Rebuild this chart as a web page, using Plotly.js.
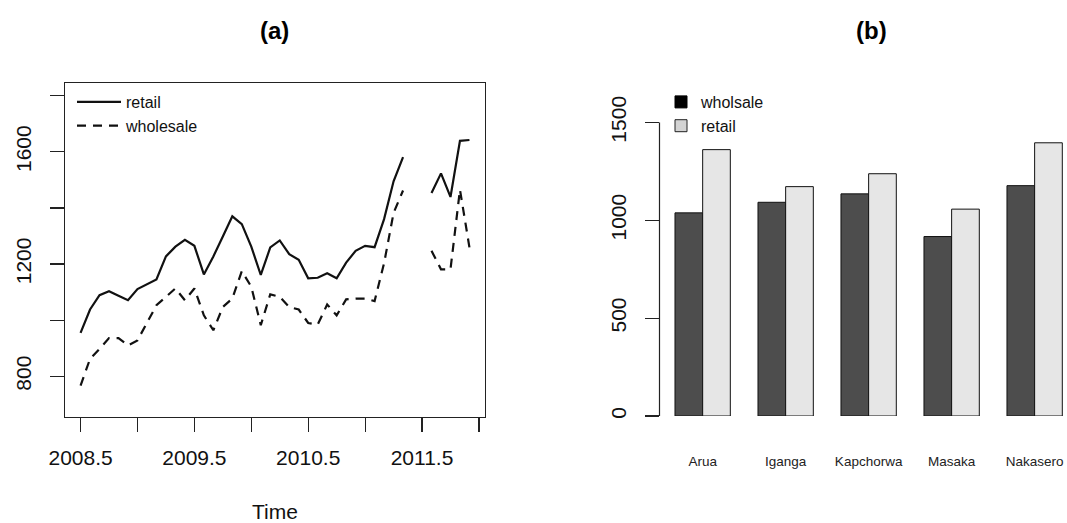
<!DOCTYPE html>
<html>
<head>
<meta charset="utf-8">
<script src="https://cdn.plot.ly/plotly-3.0.1.min.js"></script>
<style>
  html, body { margin: 0; padding: 0; background: #fff; }
  #chart { width: 1067px; height: 523px; }
</style>
</head>
<body>
<div id="chart"></div>
<script>
// ---- (a) monthly prices, July 2008 onwards (null = missing month) ----
const startYear = 2008.5;
const retail = [955, 1038, 1089, 1103, 1087, 1071, 1111, 1127, 1145, 1227, 1262, 1286,
                1265, 1163, 1227, 1298, 1370, 1342, 1262, 1161, 1259, 1284, 1235, 1215,
                1149, 1151, 1167, 1149, 1205, 1247, 1265, 1260, 1360, 1495, 1581, null,
                null, 1453, 1523, 1439, 1639, 1642];
const wholesale = [767, 862, 898, 936, 936, 910, 928, 988, 1053, 1083, 1113, 1071,
                   1113, 1017, 964, 1047, 1077, 1175, 1119, 982, 1092, 1083, 1047, 1038,
                   990, 984, 1056, 1017, 1074, 1077, 1077, 1068, 1203, 1382, 1462, null,
                   null, 1247, 1181, 1181, 1465, 1259];
const timeTicks = [2008.5, 2009, 2009.5, 2010, 2010.5, 2011, 2011.5, 2012];
const timeLabels = ['2008.5', '', '2009.5', '', '2010.5', '', '2011.5', ''];
const priceTicks = [800, 1000, 1200, 1400, 1600, 1800];
const priceLabels = ['800', '', '1200', '', '1600', ''];

// ---- (b) average price by market ----
const markets = ['Arua', 'Iganga', 'Kapchorwa', 'Masaka', 'Nakasero'];
const marketWholesale = [1038, 1092, 1135, 917, 1177];
const marketRetail = [1361, 1172, 1238, 1057, 1396];
const barTicks = [0, 500, 1000, 1500];

// monthly time index for the series
const time = retail.map((_, i) => startYear + i / 12);

const FONT = 'Liberation Sans, Arial, Helvetica, sans-serif';
const W = 1067, H = 523;
const px = v => v / W;
const py = v => 1 - v / H;

const traces = [
  { x: time, y: retail, type: 'scatter', mode: 'lines', name: 'retail',
    line: { color: '#111', width: 2.2 }, connectgaps: false,
    xaxis: 'x', yaxis: 'y', legend: 'legend' },
  { x: time, y: wholesale, type: 'scatter', mode: 'lines', name: 'wholesale',
    line: { color: '#111', width: 2.2, dash: '9px,7px' }, connectgaps: false,
    xaxis: 'x', yaxis: 'y', legend: 'legend' },
  { x: markets, y: marketWholesale, type: 'bar', name: 'wholsale', showlegend: false,
    marker: { color: '#4d4d4d', line: { color: '#111', width: 1 } },
    xaxis: 'x2', yaxis: 'y2' },
  { x: markets, y: marketRetail, type: 'bar', name: 'retail', showlegend: false,
    marker: { color: '#e6e6e6', line: { color: '#111', width: 1 } },
    xaxis: 'x2', yaxis: 'y2' },
  // legend keys for panel (b)
  { x: [null], y: [null], type: 'scatter', mode: 'markers', name: 'wholsale',
    marker: { symbol: 'square', size: 12, color: '#000', line: { color: '#000', width: 1 } },
    xaxis: 'x2', yaxis: 'y2', legend: 'legend2' },
  { x: [null], y: [null], type: 'scatter', mode: 'markers', name: 'retail',
    marker: { symbol: 'square', size: 12, color: '#d3d3d3', line: { color: '#222', width: 1 } },
    xaxis: 'x2', yaxis: 'y2', legend: 'legend2' }
];

const tickFont = { family: FONT, size: 21, color: '#111' };

const layout = {
  width: W, height: H,
  margin: { l: 0, r: 0, t: 0, b: 0 },
  paper_bgcolor: '#fff', plot_bgcolor: '#fff',
  font: { family: FONT, color: '#111' },
  showlegend: true,
  barmode: 'group', bargap: 1 / 3, bargroupgap: 0,
  xaxis: {
    domain: [px(65), px(485)],
    range: [2008.3633, 2012.0533],
    tickvals: timeTicks, ticktext: timeLabels,
    ticks: 'outside', ticklen: 14, tickwidth: 1.2, tickcolor: '#222',
    showline: true, mirror: true, linecolor: '#222', linewidth: 1.2,
    showgrid: false, zeroline: false,
    tickfont: tickFont, ticklabelstandoff: 8
  },
  yaxis: {
    domain: [py(416.7), py(83.3)],
    range: [656, 1844],
    tickvals: priceTicks, ticktext: priceLabels, tickangle: -90,
    ticks: 'outside', ticklen: 14, tickwidth: 1.2, tickcolor: '#222',
    showline: true, mirror: true, linecolor: '#222', linewidth: 1.2,
    showgrid: false, zeroline: false,
    tickfont: tickFont, ticklabelstandoff: 10
  },
  xaxis2: {
    domain: [px(659.5), 1],
    range: [-0.52, 4.39],
    type: 'category',
    ticks: 'outside', ticklen: 33, tickcolor: 'rgba(0,0,0,0)',
    showline: false, showgrid: false, zeroline: false,
    tickfont: { family: FONT, size: 13.5, color: '#222' },
    anchor: 'y2'
  },
  yaxis2: {
    domain: [py(416), py(83.3)],
    range: [0, 1700],
    tickvals: barTicks, tickangle: -90,
    ticks: 'outside', ticklen: 14, tickwidth: 1.2, tickcolor: '#222',
    showline: false, showgrid: false, zeroline: false,
    tickfont: tickFont, ticklabelstandoff: 10,
    anchor: 'x2'
  },
  legend: {
    x: px(72), y: py(85), xanchor: 'left', yanchor: 'top',
    bgcolor: 'rgba(0,0,0,0)', borderwidth: 0, itemwidth: 44,
    font: { family: FONT, size: 16, color: '#111' },
    tracegroupgap: 0
  },
  legend2: {
    x: px(661), y: py(85), xanchor: 'left', yanchor: 'top',
    bgcolor: 'rgba(0,0,0,0)', borderwidth: 0,
    font: { family: FONT, size: 16, color: '#111' },
    tracegroupgap: 0
  },
  shapes: [
    // axis line of panel (b), spanning the labelled ticks
    { type: 'line', xref: 'x2 domain', yref: 'y2',
      x0: 0, x1: 0, y0: barTicks[0], y1: barTicks[barTicks.length - 1],
      line: { color: '#222', width: 1.2 } }
  ],
  annotations: [
    { text: '<b>(a)</b>', xref: 'paper', yref: 'paper', x: px(275), y: py(30),
      xanchor: 'center', yanchor: 'middle', showarrow: false,
      font: { family: FONT, size: 24, color: '#000' } },
    { text: '<b>(b)</b>', xref: 'paper', yref: 'paper', x: px(871), y: py(30),
      xanchor: 'center', yanchor: 'middle', showarrow: false,
      font: { family: FONT, size: 24, color: '#000' } },
    { text: 'Time', xref: 'paper', yref: 'paper', x: px(275), y: py(511),
      xanchor: 'center', yanchor: 'middle', showarrow: false,
      font: { family: FONT, size: 21, color: '#111' } }
  ]
};

Plotly.newPlot('chart', traces, layout, { staticPlot: true, displayModeBar: false });
</script>
</body>
</html>
